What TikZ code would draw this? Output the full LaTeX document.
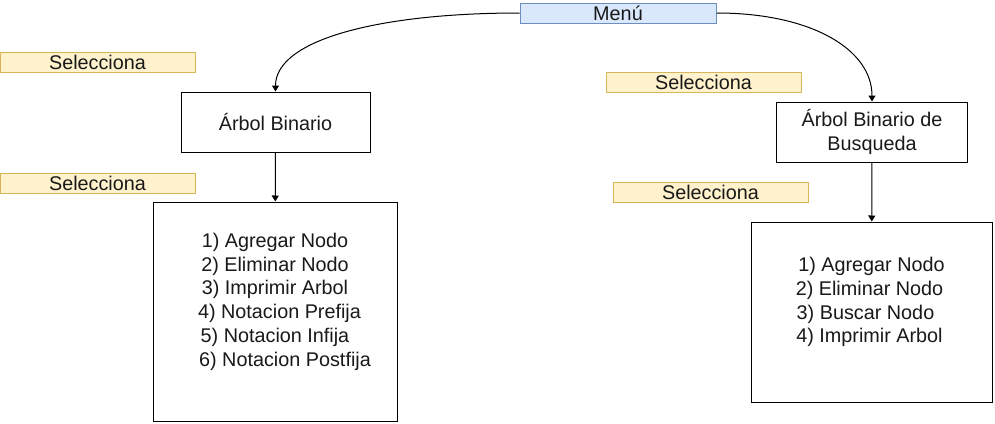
\documentclass[tikz,border=0pt]{standalone}
\usepackage{fontspec}
\setmainfont{Liberation Sans}
\usetikzlibrary{arrows.meta}
\definecolor{menuFill}{HTML}{DAE8FC}
\definecolor{menuLine}{HTML}{6C8EBF}
\definecolor{selFill}{HTML}{FFF2CC}
\definecolor{selLine}{HTML}{D6B656}

\begin{document}
\begin{tikzpicture}[x=1pt,y=-1pt,
    every node/.style={font=\fontsize{19.8pt}{23.8pt}\selectfont,
        inner sep=0pt, text=black!90},
    caja/.style={draw=black, line width=1pt, fill=white, align=center},
    menu/.style={draw=menuLine, fill=menuFill, line width=1pt,
        minimum width=196pt, minimum height=20pt},
    selecciona/.style={draw=selLine, fill=selFill, line width=1pt,
        minimum width=195pt, minimum height=20pt},
    flecha/.style={line width=1pt, -{Triangle[length=6pt,width=7pt]}}]

\useasboundingbox (0,0) rectangle (995,423);

% menu
\node[menu] (menu) at (618,13) {Menú};

% labels
\node[selecciona] (selUno)    at (97.5,62)  {Selecciona};
\node[selecciona] (selDos)    at (97.5,183) {Selecciona};
\node[selecciona] (selTres)   at (703.5,82) {Selecciona};
\node[selecciona] (selCuatro) at (710.5,192){Selecciona};

% arbol binario
\node[caja, minimum width=189pt, minimum height=60pt]
    (arbol) at (275.5,122) {Árbol Binario};
\node[caja, minimum width=244pt, minimum height=219pt]
    (opcArbol) at (275,311.5) {1) Agregar Nodo\\ 2) Eliminar Nodo\\
    3) Imprimir Arbol\\ \hspace*{9pt}4) Notacion Prefija\\
    5) Notacion Infija\\ \hspace*{20pt}6) Notacion Postfija\\ \mbox{}};

% arbol binario de busqueda
\node[caja, minimum width=191pt, minimum height=60pt]
    (busqueda) at (872,132) {Árbol Binario de\\ Busqueda};
\node[caja, minimum width=241pt, minimum height=180pt]
    (opcBusqueda) at (871.5,312) {1) Agregar Nodo\\
    \hspace*{-4pt}2) Eliminar Nodo\\ \hspace*{-12pt}3) Buscar Nodo\\
    \hspace*{-4pt}4) Imprimir Arbol\\ \mbox{}};

% arrows
\draw[flecha] (menu.west) .. controls +(-140,0) and +(0,-52) .. (arbol.north);
\draw[flecha] (menu.east) .. controls +(95,0) and +(0,-52) .. (busqueda.north);
\draw[flecha] (arbol) -- (opcArbol);
\draw[flecha] (busqueda) -- (opcBusqueda);

\end{tikzpicture}
\end{document}
